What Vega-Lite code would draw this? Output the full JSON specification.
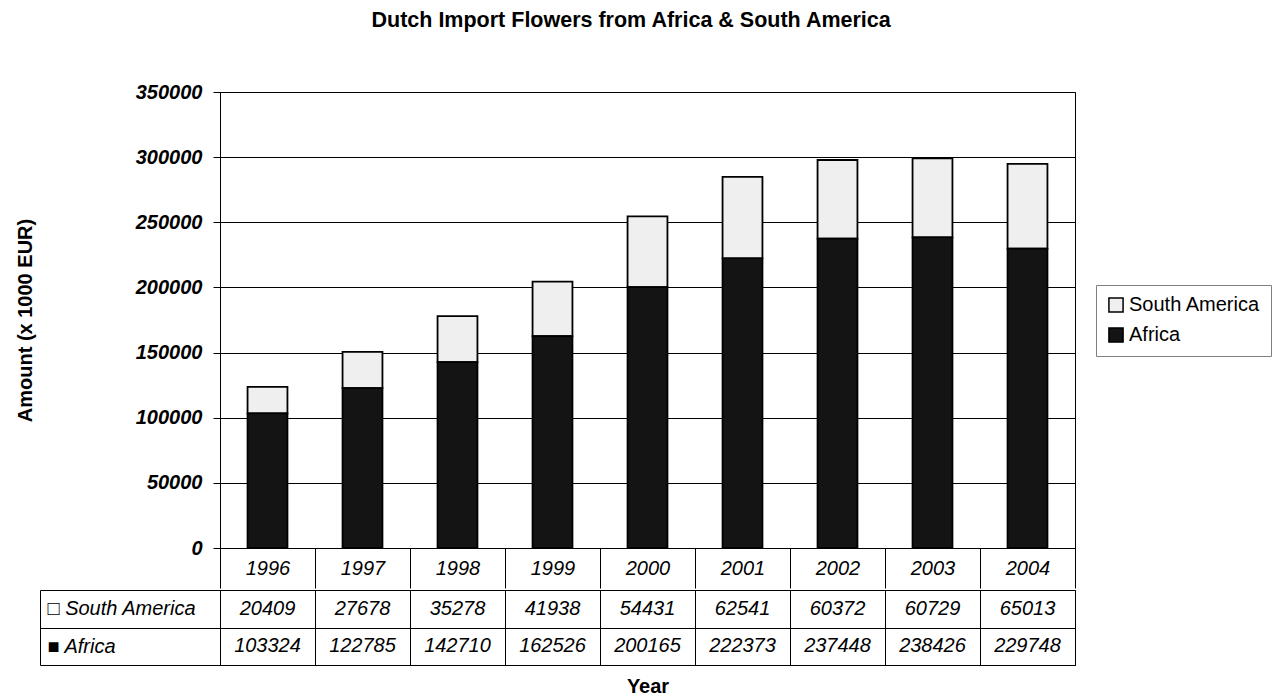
{
  "$schema": "https://vega.github.io/schema/vega-lite/v6.json",
  "padding": {"left": 14, "top": 10, "right": 5, "bottom": 0},
  "title": {"text": "Dutch Import Flowers from Africa & South America", "font": "Liberation Sans", "fontSize": 21.5, "fontWeight": "bold", "color": "black", "anchor": "middle", "offset": 50, "dx": -12},
  "data": {"values": [
    {"year": "1996", "series": "South America", "value": 20409},
    {"year": "1997", "series": "South America", "value": 27678},
    {"year": "1998", "series": "South America", "value": 35278},
    {"year": "1999", "series": "South America", "value": 41938},
    {"year": "2000", "series": "South America", "value": 54431},
    {"year": "2001", "series": "South America", "value": 62541},
    {"year": "2002", "series": "South America", "value": 60372},
    {"year": "2003", "series": "South America", "value": 60729},
    {"year": "2004", "series": "South America", "value": 65013},
    {"year": "1996", "series": "Africa", "value": 103324},
    {"year": "1997", "series": "Africa", "value": 122785},
    {"year": "1998", "series": "Africa", "value": 142710},
    {"year": "1999", "series": "Africa", "value": 162526},
    {"year": "2000", "series": "Africa", "value": 200165},
    {"year": "2001", "series": "Africa", "value": 222373},
    {"year": "2002", "series": "Africa", "value": 237448},
    {"year": "2003", "series": "Africa", "value": 238426},
    {"year": "2004", "series": "Africa", "value": 229748}
  ]},
  "spacing": 0,
  "resolve": {"scale": {"x": "independent", "y": "independent"}},
  "vconcat": [
    {
      "width": 855,
      "height": 456,
      "mark": {"type": "bar", "stroke": "black", "strokeWidth": 1.8, "width": {"band": 0.42}},
      "encoding": {
        "x": {"field": "year", "type": "ordinal", "title": null,
          "scale": {"paddingInner": 0, "paddingOuter": 0},
          "axis": {"labelAngle": 0, "labelFont": "Liberation Sans", "labelFontSize": 20, "labelFontStyle": "italic", "labelColor": "black",
                   "labelExpr": "datum.value == null ? '' : datum.value",
                   "tickBand": "extent", "tickSize": 40, "tickColor": "black", "tickWidth": 1, "labelPadding": -30, "domainColor": "black"}},
        "y": {"field": "value", "type": "quantitative", "stack": "zero",
          "scale": {"domain": [0, 350000], "nice": false},
          "axis": {"values": [0, 50000, 100000, 150000, 200000, 250000, 300000, 350000], "format": "d",
                   "title": "Amount (x 1000 EUR)", "titleFont": "Liberation Sans", "titleFontSize": 20, "titleFontWeight": "bold", "titleColor": "black", "titlePadding": 100,
                   "labelFont": "Liberation Sans", "labelFontSize": 20, "labelFontWeight": "bold", "labelFontStyle": "italic", "labelColor": "black", "labelPadding": 11,
                   "tickSize": 7, "tickColor": "black", "domainColor": "black",
                   "grid": true, "gridColor": "black", "gridOpacity": 1, "gridWidth": 1}},
        "color": {"field": "series", "type": "nominal",
          "scale": {"domain": ["South America", "Africa"], "range": ["#efefef", "#141414"]},
          "legend": {"title": null, "orient": "none", "legendX": 876, "legendY": 193,
                     "labelFont": "Liberation Sans", "labelFontSize": 20, "labelColor": "black",
                     "symbolType": "square", "symbolSize": 200, "symbolStrokeColor": "black", "symbolStrokeWidth": 1.5, "symbolOpacity": 1,
                     "strokeColor": "#808080", "padding": 10, "rowPadding": 8, "labelOffset": 3}},
        "order": {"field": "series", "sort": "ascending"}
      }
    },
    {
      "width": 855,
      "height": 75,
      "mark": {"type": "text", "font": "Liberation Sans", "fontSize": 20, "fontStyle": "italic", "color": "black"},
      "encoding": {
        "x": {"field": "year", "type": "ordinal",
          "scale": {"paddingInner": 0, "paddingOuter": 0},
          "axis": {"title": "Year", "titleFont": "Liberation Sans", "titleFontSize": 20, "titleFontWeight": "bold", "titleColor": "black", "titlePadding": 11,
                   "labels": false, "ticks": false, "domain": false, "grid": true, "tickBand": "extent", "gridColor": "black", "gridOpacity": 1, "gridWidth": 1}},
        "y": {"field": "series", "type": "nominal", "sort": ["South America", "Africa"],
          "scale": {"paddingInner": 0, "paddingOuter": 0},
          "axis": {"title": null, "offset": 180, "domain": true, "domainColor": "black", "ticks": true, "tickBand": "extent", "tickSize": -180, "tickColor": "black",
                   "grid": true, "gridColor": "black", "gridOpacity": 1,
                   "labelAlign": "left", "labelPadding": 173, "labelFont": "Liberation Sans", "labelFontStyle": "italic", "labelColor": "black",
                   "labelFontSize": {"condition": {"test": "datum.value == null", "value": 0}, "value": 20},
                   "labelExpr": "datum.value == 'Africa' ? '■ Africa' : (datum.value == 'South America' ? '□ South America' : '')"}},
        "text": {"field": "value", "type": "quantitative", "format": "d"}
      }
    }
  ],
  "config": {
    "view": {"stroke": "black", "strokeWidth": 1},
    "font": "Liberation Sans"
  }
}
